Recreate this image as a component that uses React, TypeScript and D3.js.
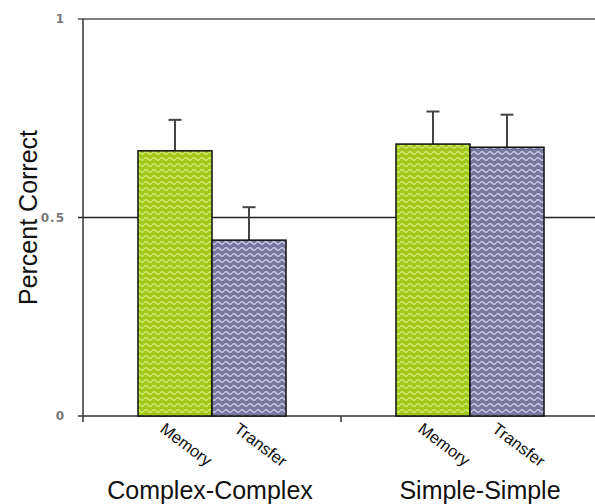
import React, { useEffect, useRef } from 'react';
import * as d3 from 'd3';

const groups = ['Complex-Complex', 'Simple-Simple'];
const series = ['Memory', 'Transfer'];
const values = [
  [0.668, 0.443],
  [0.685, 0.677],
];
const errors = [
  [0.078, 0.083],
  [0.082, 0.082],
];
const yTicks = [0, 0.5, 1];
const yTickLabels = ['0', '0.5', '1'];

const App: React.FC = () => {
  const svgRef = useRef<SVGSVGElement>(null);

  useEffect(() => {
    if (!svgRef.current) return;
    const svg = d3.select(svgRef.current);
    svg.selectAll('*').remove();

    const width = 595;
    const left = 83;
    const font = "'Liberation Sans', Arial, sans-serif";

    const y = d3.scaleLinear().domain([0, 1]).range([416, 19]);
    const x0 = d3.scaleBand().domain(groups).range([left, left + 516]).padding(0);
    const x1 = d3.scaleBand().domain(series).range([0, x0.bandwidth()])
      .paddingInner(0).paddingOuter(0.743);

    // wavy fill patterns
    const defs = svg.append('defs');
    const fills = [
      { id: 'wave-green', bg: '#a2c81c', fg: '#d2ea6c' },
      { id: 'wave-purple', bg: '#78789e', fg: '#c9c9ea' },
    ];
    fills.forEach(f => {
      const p = defs.append('pattern')
        .attr('id', f.id)
        .attr('patternUnits', 'userSpaceOnUse')
        .attr('width', 8)
        .attr('height', 6);
      p.append('rect').attr('width', 8).attr('height', 6).attr('fill', f.bg);
      p.append('path')
        .attr('d', 'M0 3 Q2 0.5 4 3 Q6 5.5 8 3')
        .attr('fill', 'none')
        .attr('stroke', f.fg)
        .attr('stroke-width', 1.3);
    });

    // top line at 1
    svg.append('line')
      .attr('x1', left - 5).attr('x2', width)
      .attr('y1', y(1)).attr('y2', y(1))
      .attr('stroke', '#555').attr('stroke-width', 1.3);

    // reference line at 0.5
    svg.append('line')
      .attr('x1', left - 5).attr('x2', width)
      .attr('y1', y(0.5)).attr('y2', y(0.5))
      .attr('stroke', '#222').attr('stroke-width', 1.4);

    // x axis line
    svg.append('line')
      .attr('x1', left - 5).attr('x2', width)
      .attr('y1', y(0)).attr('y2', y(0))
      .attr('stroke', '#333').attr('stroke-width', 1.5);

    // y axis
    svg.append('line')
      .attr('x1', left).attr('x2', left)
      .attr('y1', y(1)).attr('y2', y(0) + 6)
      .attr('stroke', '#333').attr('stroke-width', 1.5);

    // group divider tick
    groups.slice(1).forEach(g => {
      svg.append('line')
        .attr('x1', x0(g)!).attr('x2', x0(g)!)
        .attr('y1', y(0)).attr('y2', y(0) + 6)
        .attr('stroke', '#333').attr('stroke-width', 1.5);
    });

    // y tick labels
    yTicks.forEach((t, i) => {
      svg.append('text')
        .attr('x', 65)
        .attr('y', y(t))
        .attr('dy', '0.35em')
        .attr('text-anchor', 'end')
        .attr('font-family', "'DejaVu Sans', Verdana, sans-serif")
        .attr('font-size', 12)
        .attr('font-weight', 'bold')
        .attr('letter-spacing', 1)
        .attr('fill', '#777')
        .text(yTickLabels[i]);
    });

    // bars
    groups.forEach((g, gi) => {
      const gx = x0(g)!;
      series.forEach((s, si) => {
        const v = values[gi][si];
        const e = errors[gi][si];
        const bx = gx + x1(s)!;
        const bw = x1.bandwidth();
        const cx = bx + bw / 2;

        // error bar
        svg.append('line')
          .attr('x1', cx).attr('x2', cx)
          .attr('y1', y(v)).attr('y2', y(v + e))
          .attr('stroke', '#444').attr('stroke-width', 2);
        svg.append('line')
          .attr('x1', cx - 6.5).attr('x2', cx + 6.5)
          .attr('y1', y(v + e)).attr('y2', y(v + e))
          .attr('stroke', '#444').attr('stroke-width', 2);

        svg.append('rect')
          .attr('x', bx)
          .attr('y', y(v))
          .attr('width', bw)
          .attr('height', y(0) - y(v))
          .attr('fill', `url(#${fills[si].id})`)
          .attr('stroke', '#111')
          .attr('stroke-width', 1.5);

        // rotated series label
        svg.append('text')
          .attr('transform', `translate(${cx - 16},${431}) rotate(37)`)
          .attr('font-family', font)
          .attr('font-size', 16.5)
          .attr('fill', '#111')
          .text(s);
      });
    });

    // group labels
    const groupLabelDx = [-2, 10];
    groups.forEach((g, gi) => {
      svg.append('text')
        .attr('x', x0(g)! + x0.bandwidth() / 2 + groupLabelDx[gi])
        .attr('y', 499)
        .attr('text-anchor', 'middle')
        .attr('font-family', font)
        .attr('font-size', 25)
        .attr('fill', '#111')
        .text(g);
    });

    // y axis title
    svg.append('text')
      .attr('transform', `translate(37,${y(0.5)}) rotate(-90)`)
      .attr('text-anchor', 'middle')
      .attr('font-family', font)
      .attr('font-size', 25)
      .attr('fill', '#111')
      .text('Percent Correct');
  }, []);

  return (
    <svg
      ref={svgRef}
      width={595}
      height={504}
      viewBox="0 0 595 504"
      style={{ position: 'absolute', left: 0, top: 0, background: '#fff' }}
    />
  );
};

export default App;
